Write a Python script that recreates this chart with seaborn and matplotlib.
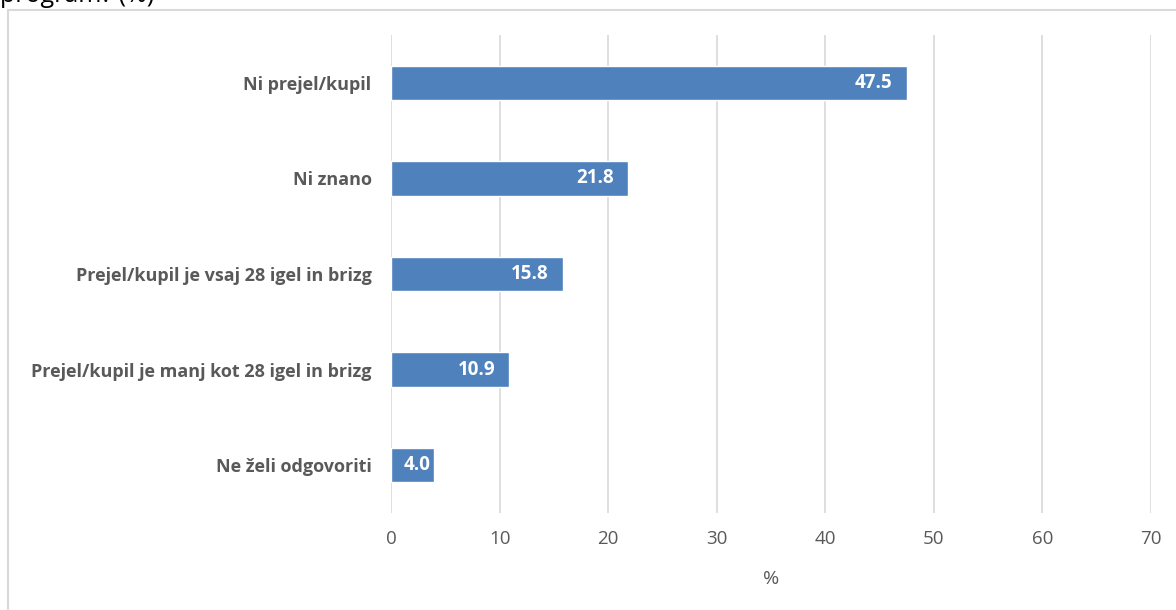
import matplotlib
matplotlib.use("Agg")
import matplotlib.pyplot as plt
import matplotlib.patches as mpatches
import seaborn as sns

CATEGORIES = [
    "Ni prejel/kupil",
    "Ni znano",
    "Prejel/kupil je vsaj 28 igel in brizg",
    "Prejel/kupil je manj kot 28 igel in brizg",
    "Ne želi odgovoriti",
]
VALUES = [47.5, 21.8, 15.8, 10.9, 4.0]
X_TICKS = [0, 10, 20, 30, 40, 50, 60, 70]
X_LABEL = "%"
TOP_TEXT = "program? (%)"

BAR_COLOUR = "#4F81BD"
TEXT_GREY = "#595959"
GRID_GREY = "#D9D9D9"

sns.set_theme(style="white")
plt.rcParams["font.family"] = ["Open Sans", "DejaVu Sans"]

fig = plt.figure(figsize=(11.76, 6.10), dpi=100)
ax = fig.add_axes([391 / 1176, 1 - 513 / 610, 760 / 1176, 478 / 610])

sns.barplot(x=VALUES, y=CATEGORIES, orient="h", color=BAR_COLOUR,
            width=0.36, saturation=1, ax=ax)

for i, v in enumerate(VALUES):
    # small bars get a tighter inner margin, like the original
    off = -10 if v > 8 else -3
    ax.annotate(f"{v:.1f}", xy=(v, i), xytext=(off, 0), textcoords="offset points",
                ha="right", va="center", color="white", fontsize=13.5, fontweight="bold")

ax.set_xlim(0, 70)
ax.set_xticks(X_TICKS)
ax.set_xticklabels([str(t) for t in X_TICKS])
ax.xaxis.grid(True, color=GRID_GREY, linewidth=1.2)
ax.set_axisbelow(True)
for s in ax.spines.values():
    s.set_visible(False)
ax.tick_params(axis="x", length=0, pad=12, labelsize=13.5, labelcolor=TEXT_GREY)
ax.tick_params(axis="y", length=0, pad=14, labelsize=13, labelcolor=TEXT_GREY)
for lbl in ax.get_yticklabels():
    lbl.set_fontweight("bold")
ax.set_xlabel(X_LABEL, color=TEXT_GREY, fontsize=14, labelpad=16)
ax.set_ylabel("")

# outer chart frame (cut off at right and bottom)
frame = mpatches.Rectangle((8 / 1176, -0.1), 1.2, 1.1 - 10 / 610, transform=fig.transFigure,
                           fill=False, edgecolor=GRID_GREY, linewidth=1.5, clip_on=False)
fig.add_artist(frame)

fig.text(0.0, 1 - 2 / 610, TOP_TEXT, ha="left", va="baseline", fontsize=18, color="black")

fig.savefig("out.png", dpi=100)
